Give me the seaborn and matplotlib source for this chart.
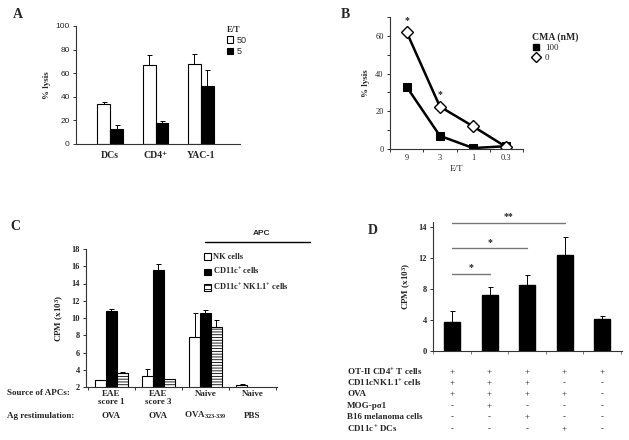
import numpy as np
import pandas as pd
import seaborn as sns
import matplotlib.pyplot as plt
from matplotlib.lines import Line2D
from matplotlib.patches import Patch
from matplotlib.transforms import blended_transform_factory

# A: % lysis by target, two E/T ratios
a_targets = ['DCs', 'CD4⁺', 'YAC-1']
a_ratios = ['50', '5']
a_lysis_50 = [34, 67, 68]
a_err_50 = [1.5, 8, 8]
a_lysis_5 = [13, 18, 49]
a_err_5 = [3, 1.5, 14]

# B: % lysis vs E/T, with / without CMA
b_et = ['9', '3', '1', '0.3']
b_cma_100 = [33, 7, 0.5, 1.5]
b_cma_0 = [62, 22.5, 12, 1]
b_star = [True, True, False, False]

# C: proliferation by APC source
c_groups = ['g1', 'g2', 'g3', 'g4']
c_source = ['EAE\nscore 1', 'EAE\nscore 3', 'Naive', 'Naive']
c_restim = ['OVA', 'OVA', r'OVA$_{323\text{-}339}$', 'PBS']
c_apc = ['NK cells', 'CD11c$^{+}$ cells', 'CD11c$^{+}$ NK1.1$^{+}$ cells']
c_nk = [2.8, 3.3, 7.8, 2.2]
c_nk_err = [0.0, 0.8, 2.8, 0.1]
c_cd11c = [10.8, 15.6, 10.6]
c_cd11c_err = [0.2, 0.7, 0.3]
c_double = [3.6, 2.9, 8.9]
c_double_err = [0.1, 0.05, 0.9]

# D: proliferation with suppressor conditions
d_cols = ['1', '2', '3', '4', '5']
d_cpm = [3.7, 7.2, 8.5, 12.3, 4.1]
d_err = [1.5, 1.1, 1.3, 2.4, 0.4]
d_rows = ['OT-II CD4$^{+}$ T cells', 'CD11cNK1.1$^{+}$ cells', 'OVA', 'MOG-pσ1',
          'B16 melanoma cells', 'CD11c$^{+}$ DCs']
d_signs = [['+', '+', '+', '+', '+'],
           ['+', '+', '+', '-', '-'],
           ['+', '+', '+', '+', '-'],
           ['-', '+', '-', '-', '-'],
           ['-', '-', '+', '-', '-'],
           ['-', '-', '-', '+', '-']]
d_sig = [(1, 9.9, '*'), (2, 13.2, '*'), (3, 16.5, '**')]

sns.set_style('ticks')
plt.rcParams['font.family'] = ['Liberation Serif', 'DejaVu Serif']
plt.rcParams['mathtext.fontset'] = 'custom'
plt.rcParams['mathtext.rm'] = 'Liberation Serif:bold'
plt.rcParams['mathtext.bf'] = 'Liberation Serif:bold'
plt.rcParams['mathtext.it'] = 'Liberation Serif:bold:italic'
plt.rcParams['mathtext.default'] = 'rm'
plt.rcParams['hatch.linewidth'] = 0.6
plt.rcParams['axes.linewidth'] = 0.8

fig = plt.figure(figsize=(6.29, 4.40), dpi=100)
W, H = 629, 440


def add_ax(l, t, r, b):
    return fig.add_axes([l / W, 1 - b / H, (r - l) / W, (b - t) / H])


def style_ax(ax):
    sns.despine(ax=ax)
    for s in ['left', 'bottom']:
        ax.spines[s].set_color('#333333')
    ax.tick_params(axis='x', which='major', length=0)
    ax.tick_params(axis='y', length=2.5, width=0.7, color='#333333', pad=2)


def upper_errors(ax, df, hue_col, hue_order, val, err):
    for level, cont in zip(hue_order, ax.containers):
        sub = df[df[hue_col] == level]
        for patch, e in zip(cont, sub[err]):
            x = patch.get_x() + patch.get_width() / 2
            h = patch.get_height()
            ax.errorbar([x], [h], yerr=[[0], [e]], fmt='none', ecolor='black',
                        elinewidth=0.7, capsize=1.8, capthick=0.7)


serif_b = dict(family='Liberation Serif', weight='bold')
sans = dict(family='Liberation Sans')

# ---------- A ----------
axA = add_ax(76, 26, 240, 144)
dfA = pd.DataFrame({
    'target': a_targets * 2,
    'ratio': ['50'] * 3 + ['5'] * 3,
    'lysis': a_lysis_50 + a_lysis_5,
    'err': a_err_50 + a_err_5,
})
sns.barplot(data=dfA, x='target', y='lysis', hue='ratio', hue_order=a_ratios,
            palette={'50': 'white', '5': 'black'}, edgecolor='black', linewidth=0.8,
            width=0.57, gap=0, errorbar=None, legend=False, ax=axA)
upper_errors(axA, dfA, 'ratio', a_ratios, 'lysis', 'err')
axA.set_xlim(-0.75, 2.86)
axA.set_ylim(0, 100)
axA.set_yticks([0, 20, 40, 60, 80, 100])
style_ax(axA)
axA.tick_params(axis='x', pad=5)
axA.set_xlabel('')
axA.set_ylabel('% lysis', fontsize=6.5, labelpad=3, **serif_b)
for t in axA.get_yticklabels():
    t.set_fontproperties(sans)
    t.set_fontsize(6)
for t in axA.get_xticklabels():
    t.set_fontsize(7)
    t.set_fontweight('bold')
legA = axA.legend(handles=[Patch(facecolor='white', edgecolor='black', lw=0.8),
                           Patch(facecolor='black', edgecolor='black', lw=0.8)],
                  labels=a_ratios, title='E/T', loc='upper left',
                  bbox_to_anchor=(222 / W, 1 - 21 / H), bbox_transform=fig.transFigure,
                  frameon=False, prop=dict(family='Liberation Sans', size=6.5),
                  handlelength=0.7, handleheight=0.7, handletextpad=0.4,
                  labelspacing=0.25, borderpad=0, alignment='left')
legA.get_title().set_fontproperties(dict(family='Liberation Serif', weight='bold', size=6))

# ---------- B ----------
axB = add_ax(390, 17, 523, 149)
sns.lineplot(x=b_et, y=b_cma_100, sort=False, color='black', lw=1.8, marker='s',
             markersize=6, markeredgecolor='black', ax=axB)
sns.lineplot(x=b_et, y=b_cma_0, sort=False, color='black', lw=1.8, marker='D',
             markersize=6.5, markerfacecolor='white', markeredgecolor='black',
             markeredgewidth=1, ax=axB)
for i, (v, s) in enumerate(zip(b_cma_0, b_star)):
    if s:
        axB.text(i, v + 4, '*', ha='center', va='bottom', fontsize=7, **serif_b)
axB.set_xlim(-0.5, 3.5)
axB.set_ylim(0, 70)
axB.set_yticks(np.arange(0, 71, 10))
axB.set_yticklabels(['0', '', '20', '', '40', '', '60', ''])
axB.set_xticks(np.arange(-0.5, 3.6, 1), minor=True)
style_ax(axB)
axB.tick_params(axis='x', which='minor', length=2.5, width=0.7, color='#333333')
axB.tick_params(labelsize=6)
axB.set_xlabel('E/T', fontsize=6.5, labelpad=2)
axB.set_ylabel('% lysis', fontsize=6.5, labelpad=4, **serif_b)
legB = axB.legend(handles=[Line2D([], [], ls='none', marker='s', color='black', ms=5),
                           Line2D([], [], ls='none', marker='D', mfc='white', mec='black',
                                  ms=5.5, mew=1)],
                  labels=['100', '0'], title='CMA (nM)', loc='upper left',
                  bbox_to_anchor=(527 / W, 1 - 28 / H), bbox_transform=fig.transFigure,
                  frameon=False, prop=dict(family='Liberation Serif', size=6.5),
                  handlelength=1.0, handletextpad=0.5, labelspacing=0.2,
                  borderpad=0, alignment='left')
legB.get_title().set_fontproperties(dict(family='Liberation Serif', weight='bold', size=7))

# ---------- C ----------
axC = add_ax(86, 249, 277, 387)
rowsC = []
for g, v, e in zip(c_groups, c_nk, c_nk_err):
    rowsC.append((g, c_apc[0], v, e))
for g, v, e in zip(c_groups, c_cd11c, c_cd11c_err):
    rowsC.append((g, c_apc[1], v, e))
for g, v, e in zip(c_groups, c_double, c_double_err):
    rowsC.append((g, c_apc[2], v, e))
dfC = pd.DataFrame(rowsC, columns=['group', 'apc', 'cpm', 'err'])
sns.barplot(data=dfC, x='group', y='cpm', hue='apc', hue_order=c_apc, order=c_groups,
            palette=['white', 'black', 'white'], edgecolor='black', linewidth=0.8,
            width=0.70, gap=0, errorbar=None, legend=False, ax=axC)
for p in axC.containers[2]:
    p.set_hatch('------')
upper_errors(axC, dfC, 'apc', c_apc, 'cpm', 'err')
axC.set_xlim(-0.54, 3.52)
axC.set_ylim(2, 18)
axC.set_yticks(np.arange(2, 19, 2))
axC.set_xticks(np.arange(-0.5, 3.6, 1), minor=True)
style_ax(axC)
axC.tick_params(axis='x', which='minor', length=2.5, width=0.7, color='#333333')
axC.set_xticks(range(len(c_groups)))
axC.tick_params(axis='x', which='major', pad=2)
axC.set_xticklabels(c_source, fontsize=6.5, fontweight='bold', linespacing=1.0)
for t in axC.get_yticklabels():
    t.set_fontsize(6)
    t.set_fontweight('bold')
axC.set_xlabel('')
axC.set_ylabel('CPM (x10$^{3}$)', fontsize=6.5, labelpad=4, **serif_b)
trC = blended_transform_factory(axC.transData, fig.transFigure)
for i, r in enumerate(c_restim):
    axC.text(i, 1 - 418 / H, r, transform=trC, ha='center', va='baseline', fontsize=6.5,
             **serif_b)
fig.text(7 / W, 1 - 393 / H, 'Source of APCs:', ha='left', va='center', fontsize=6.5,
         **serif_b)
fig.text(7 / W, 1 - 418 / H, 'Ag restimulation:', ha='left', va='baseline', fontsize=6.5,
         **serif_b)
legC = axC.legend(handles=[Patch(facecolor='white', edgecolor='black', lw=0.8),
                           Patch(facecolor='black', edgecolor='black', lw=0.8),
                           Patch(facecolor='white', edgecolor='black', lw=0.8,
                                 hatch='----')],
                  labels=c_apc, loc='upper left',
                  bbox_to_anchor=(200 / W, 1 - 249 / H), bbox_transform=fig.transFigure,
                  frameon=False, prop=dict(family='Liberation Serif', weight='bold', size=6),
                  handlelength=0.8, handleheight=0.8, handletextpad=0.3,
                  labelspacing=0.55, borderpad=0)
fig.text(262 / W, 1 - 233 / H, 'APC', ha='center', va='center', fontsize=6,
         family='Liberation Sans', weight='bold')
fig.add_artist(Line2D([205 / W, 310 / W], [1 - 242 / H, 1 - 242 / H], color='black',
                      lw=1.0, transform=fig.transFigure))

# ---------- D ----------
axD = add_ax(433, 222, 622, 351)
dfD = pd.DataFrame({'col': d_cols, 'cpm': d_cpm, 'err': d_err})
sns.barplot(data=dfD, x='col', y='cpm', color='black', edgecolor='black',
            width=0.43, errorbar=None, ax=axD)
for patch, e in zip(axD.containers[0], d_err):
    x = patch.get_x() + patch.get_width() / 2
    axD.errorbar([x], [patch.get_height()], yerr=[[0], [e]], fmt='none',
                 ecolor='black', elinewidth=0.7, capsize=1.8, capthick=0.7)
for j, y, s in d_sig:
    axD.plot([0, j], [y, y], color='#777777', lw=1.0, clip_on=False)
    axD.text(j / 2, y + 0.2, s, ha='center', va='bottom', fontsize=7, **serif_b)
axD.set_xlim(-0.51, 4.53)
axD.set_ylim(0, 16.6)
axD.set_yticks([0, 4, 8, 12, 16])
axD.set_yticklabels(['0', '4', '8', '12', '14'])
axD.set_xticks(np.arange(-0.5, 4.6, 1), minor=True)
style_ax(axD)
axD.tick_params(axis='x', which='minor', length=2, width=0.6, color='#666666')
axD.set_xticklabels([])
axD.set_xlabel('')
for t in axD.get_yticklabels():
    t.set_fontsize(6)
    t.set_fontweight('bold')
axD.set_ylabel('CPM (x10$^{3}$)', fontsize=6.5, labelpad=4, **serif_b)
trD = blended_transform_factory(axD.transData, fig.transFigure)
row_y = [372, 383, 394, 406, 417, 429]
for label, signs, y in zip(d_rows, d_signs, row_y):
    fig.text(347 / W, 1 - y / H, label, ha='left', va='center', fontsize=6.5, **serif_b)
    for i, s in enumerate(signs):
        axD.text(i, 1 - y / H, s, transform=trD, ha='center', va='center',
                 fontsize=6.5, family='Liberation Serif')

# panel letters
for letter, x, y in [('A', 18, 15), ('B', 345, 15), ('C', 15, 227), ('D', 373, 230)]:
    fig.text(x / W, 1 - y / H, letter, ha='center', va='center', fontsize=10, **serif_b)

fig.savefig('out.png', dpi=100)
